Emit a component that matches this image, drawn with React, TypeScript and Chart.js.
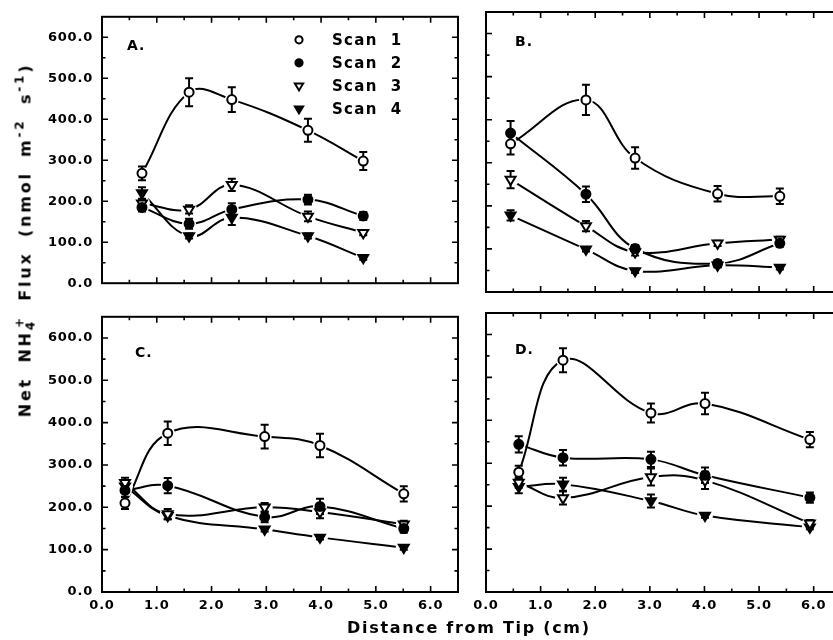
import React, { useEffect, useRef } from "react";
import { Chart, registerables } from "chart.js";

Chart.register(...registerables);

// ---------------- DATA ----------------
const SERIES_NAMES = ["Scan 1", "Scan 2", "Scan 3", "Scan 4"];
const PANEL_LABELS = ["A.", "B.", "C.", "D."];
const X_TITLE = "Distance from Tip (cm)";

// Panel A
const xA = [0.73, 1.59, 2.37, 3.76, 4.77];
const a1 = [268, 466, 448, 373, 298];
const a2 = [185, 145, 180, 204, 164];
const a3 = [195, 180, 240, 163, 123];
const a4 = [220, 115, 160, 115, 62];
const a1e = [17, 34, 30, 28, 22];
const a2e = [10, 12, 15, 12, 10];
const a3e = [10, 10, 15, 12, 6];
const a4e = [14, 6, 18, 6, 5];

// Panel B
const xB = [0.45, 1.83, 2.73, 4.24, 5.38];
const b1 = [344, 446, 311, 228, 222];
const b2 = [369, 227, 101, 66, 113];
const b3 = [261, 153, 93, 113, 122];
const b4 = [178, 99, 49, 62, 57];
const b1e = [25, 35, 25, 18, 18];
const b2e = [28, 18, 8, 8, 8];
const b3e = [20, 12, 8, 6, 6];
const b4e = [12, 5, 5, 5, 5];

// Panel C
const xC = [0.42, 1.2, 2.97, 3.98, 5.51];
const c1 = [210, 375, 367, 346, 232];
const c2 = [240, 251, 177, 202, 150];
const c3 = [258, 184, 200, 189, 160];
const c4 = [250, 180, 148, 129, 105];
const c1e = [14, 28, 28, 28, 18];
const c2e = [15, 18, 12, 18, 10];
const c3e = [12, 12, 10, 15, 8];
const c4e = [12, 8, 5, 5, 5];

// Panel D
const xD = [0.6, 1.41, 3.02, 4.01, 5.93];
const d1 = [279, 540, 417, 439, 355];
const d2 = [344, 313, 309, 272, 220];
const d3 = [255, 219, 268, 260, 160];
const d4 = [245, 251, 212, 178, 151];
const d1e = [15, 28, 22, 25, 18];
const d2e = [19, 18, 18, 18, 12];
const d3e = [12, 15, 20, 20, 8];
const d4e = [15, 15, 15, 5, 5];

const X_MIN = 0;
const X_MAX = 6.5;
const X_STEP = 1;
const Y_MIN = 0;
const Y_MAX = 650;
const Y_STEP = 100;

// ---------------- STYLE ----------------
const FONT = "'DejaVu Sans', sans-serif";

const MARKERS = [
  { style: "circle", r: 4.5, fill: "#fff" },
  { style: "circle", r: 4.5, fill: "#000" },
  { style: "triangle", r: 5.5, fill: "#fff" },
  { style: "triangle", r: 5.5, fill: "#000" },
];

type Panel = {
  label: string;
  x: number[];
  ys: number[][];
  errs: number[][];
  left: number;
  top: number;
  width: number;
  height: number;
  yAxisW: number;
  xAxisH: number;
  padTop: number;
  padRight: number;
  showX: boolean;
  showY: boolean;
  legend: boolean;
  labelDx: number;
  labelDy: number;
};

const PANELS: Panel[] = [
  {
    label: PANEL_LABELS[0], x: xA, ys: [a1, a2, a3, a4], errs: [a1e, a2e, a3e, a4e],
    left: 0, top: 0, width: 460, height: 300, yAxisW: 102, xAxisH: 8, padTop: 12, padRight: 2,
    showX: false, showY: true, legend: true, labelDx: 25, labelDy: 30,
  },
  {
    label: PANEL_LABELS[1], x: xB, ys: [b1, b2, b3, b4], errs: [b1e, b2e, b3e, b4e],
    left: 460, top: 0, width: 400, height: 300, yAxisW: 26, xAxisH: 8, padTop: 12, padRight: 19,
    showX: false, showY: false, legend: false, labelDx: 29, labelDy: 30,
  },
  {
    label: PANEL_LABELS[2], x: xC, ys: [c1, c2, c3, c4], errs: [c1e, c2e, c3e, c4e],
    left: 0, top: 300, width: 460, height: 340, yAxisW: 102, xAxisH: 48, padTop: 13, padRight: 2,
    showX: true, showY: true, legend: false, labelDx: 33, labelDy: 37,
  },
  {
    label: PANEL_LABELS[3], x: xD, ys: [d1, d2, d3, d4], errs: [d1e, d2e, d3e, d4e],
    left: 460, top: 300, width: 400, height: 340, yAxisW: 26, xAxisH: 48, padTop: 13, padRight: 19,
    showX: true, showY: false, legend: false, labelDx: 29, labelDy: 37,
  },
];

function markerPath(ctx: CanvasRenderingContext2D, s: number, x: number, y: number, r: number) {
  const m = MARKERS[s];
  ctx.beginPath();
  if (m.style === "circle") {
    ctx.arc(x, y, r, 0, Math.PI * 2);
  } else {
    ctx.moveTo(x - r * 0.9, y - r * 0.5);
    ctx.lineTo(x + r * 0.9, y - r * 0.5);
    ctx.lineTo(x, y + r);
    ctx.closePath();
  }
}

function drawMarker(ctx: CanvasRenderingContext2D, s: number, x: number, y: number, r: number) {
  ctx.save();
  ctx.lineWidth = 2;
  ctx.strokeStyle = "#000";
  ctx.fillStyle = MARKERS[s].fill;
  markerPath(ctx, s, x, y, r);
  ctx.fill();
  ctx.stroke();
  ctx.restore();
}

const letterSpacingPlugin = {
  id: "letterSpacingPlugin",
  beforeDraw(chart: any) {
    (chart.ctx as any).letterSpacing = "0.8px";
  },
};

// halos (gaps in lines), error bars, and markers at the library-computed point positions
const markerPlugin = {
  id: "markerPlugin",
  afterDatasetsDraw(chart: any) {
    const ctx = chart.ctx as CanvasRenderingContext2D;
    const yScale = chart.scales.y;
    const { left, top, right, bottom } = chart.chartArea;
    ctx.save();
    ctx.beginPath();
    ctx.rect(left, top, right - left, bottom - top);
    ctx.clip();
    const n = chart.data.datasets.length;
    ctx.fillStyle = "#fff";
    for (let i = 0; i < n; i++) {
      const meta = chart.getDatasetMeta(i);
      meta.data.forEach((el: any) => {
        ctx.beginPath();
        ctx.arc(el.x, el.y, MARKERS[i].r + 2.5, 0, Math.PI * 2);
        ctx.fill();
      });
    }
    ctx.strokeStyle = "#000";
    ctx.lineWidth = 2;
    for (let i = 0; i < n; i++) {
      const ds = chart.data.datasets[i];
      const meta = chart.getDatasetMeta(i);
      meta.data.forEach((el: any, k: number) => {
        const v = ds.data[k].y;
        const e = ds.errors[k];
        const yt = yScale.getPixelForValue(v + e);
        const yb = yScale.getPixelForValue(v - e);
        const x = el.x;
        ctx.beginPath();
        ctx.moveTo(x, yt);
        ctx.lineTo(x, yb);
        ctx.moveTo(x - 4, yt);
        ctx.lineTo(x + 4, yt);
        ctx.moveTo(x - 4, yb);
        ctx.lineTo(x + 4, yb);
        ctx.stroke();
      });
    }
    for (let i = n - 1; i >= 0; i--) {
      const meta = chart.getDatasetMeta(i);
      meta.data.forEach((el: any) => drawMarker(ctx, i, el.x, el.y, MARKERS[i].r));
    }
    ctx.restore();
  },
};

const framePlugin = {
  id: "framePlugin",
  afterDraw(chart: any, _args: any, opts: any) {
    const ctx = chart.ctx as CanvasRenderingContext2D;
    const { left, top, right, bottom } = chart.chartArea;
    const xs = chart.scales.x;
    const ys = chart.scales.y;
    ctx.save();
    (ctx as any).letterSpacing = "0px";
    ctx.strokeStyle = "#000";
    ctx.lineWidth = 1.6;
    ctx.beginPath();
    for (let v = X_MIN + 0.5; v < X_MAX; v += 0.5) {
      const px = xs.getPixelForValue(v);
      const len = Math.abs(v - Math.round(v)) < 1e-6 ? 6 : 3.5;
      ctx.moveTo(px, bottom);
      ctx.lineTo(px, bottom - len);
      ctx.moveTo(px, top);
      ctx.lineTo(px, top + len);
    }
    for (let v = Y_MIN + 50; v < Y_MAX; v += 50) {
      const py = ys.getPixelForValue(v);
      const len = v % 100 === 0 ? 6 : 3.5;
      ctx.moveTo(left, py);
      ctx.lineTo(left + len, py);
      ctx.moveTo(right, py);
      ctx.lineTo(right - len, py);
    }
    ctx.stroke();
    ctx.lineWidth = 2;
    ctx.strokeRect(left, top, right - left, bottom - top);

    ctx.fillStyle = "#000";
    ctx.font = `bold 14px ${FONT}`;
    (ctx as any).letterSpacing = "1px";
    ctx.textAlign = "left";
    ctx.textBaseline = "middle";
    ctx.fillText(opts.label, left + opts.dx, top + opts.dy);

    if (opts.legend) {
      ctx.font = `bold 15px ${FONT}`;
      (ctx as any).letterSpacing = "1.3px";
      SERIES_NAMES.forEach((name, s) => {
        const y = top + 23 + s * 23;
        drawMarker(ctx, s, left + 197, y, s >= 2 ? 4.6 : 3.6);
        ctx.fillStyle = "#000";
        ctx.fillText(name.replace(" ", "  "), left + 230, y + 1);
      });
    }
    ctx.restore();
  },
};

function buildConfig(p: Panel): any {
  const tickFont = { family: FONT, size: 13, weight: "bold" as const };
  return {
    type: "line",
    data: {
      datasets: SERIES_NAMES.map((name, s) => ({
        label: name,
        data: p.x.map((x, k) => ({ x, y: p.ys[s][k] })),
        errors: p.errs[s],
        borderColor: "#000",
        borderWidth: 2,
        tension: 0.4,
        fill: false,
        pointRadius: 0,
        pointHoverRadius: 0,
      })),
    },
    options: {
      responsive: false,
      animation: false,
      devicePixelRatio: 1,
      events: [],
      layout: { padding: { top: p.padTop, right: p.padRight, left: 0, bottom: 0 } },
      plugins: {
        legend: { display: false },
        tooltip: { enabled: false },
        framePlugin: { label: p.label, dx: p.labelDx, dy: p.labelDy, legend: p.legend },
      },
      scales: {
        x: {
          type: "linear",
          min: X_MIN,
          max: X_MAX,
          grid: { display: false, drawTicks: false },
          border: { display: false },
          ticks: {
            display: p.showX,
            stepSize: X_STEP,
            includeBounds: false,
            autoSkip: false,
            maxRotation: 0,
            padding: 6,
            color: "#000",
            font: tickFont,
            callback: (v: any) => Number(v).toFixed(1),
          },
          afterFit: (s: any) => {
            s.height = p.xAxisH;
          },
        },
        y: {
          type: "linear",
          min: Y_MIN,
          max: Y_MAX,
          grid: { display: false, drawTicks: false },
          border: { display: false },
          ticks: {
            display: p.showY,
            stepSize: Y_STEP,
            includeBounds: false,
            autoSkip: false,
            padding: 9,
            color: "#000",
            font: tickFont,
            callback: (v: any) => Number(v).toFixed(1),
          },
          afterFit: (s: any) => {
            s.width = p.yAxisW;
          },
        },
      },
    },
    plugins: [letterSpacingPlugin, markerPlugin, framePlugin],
  };
}

export default function App() {
  const r0 = useRef<HTMLCanvasElement>(null);
  const r1 = useRef<HTMLCanvasElement>(null);
  const r2 = useRef<HTMLCanvasElement>(null);
  const r3 = useRef<HTMLCanvasElement>(null);
  const refs = [r0, r1, r2, r3];

  useEffect(() => {
    const charts = PANELS.map((p, i) => new Chart(refs[i].current as HTMLCanvasElement, buildConfig(p)));
    return () => charts.forEach((c) => c.destroy());
  }, []);

  const titleStyle: React.CSSProperties = {
    fontFamily: FONT,
    fontWeight: "bold",
    fontSize: 16,
    color: "#000",
    whiteSpace: "nowrap",
    position: "absolute",
  };
  const supStyle: React.CSSProperties = { fontSize: 12, verticalAlign: "0.6em", lineHeight: 0 };
  const subStyle: React.CSSProperties = { fontSize: 12, verticalAlign: "-0.35em", lineHeight: 0 };

  return (
    <div
      style={{
        position: "absolute",
        left: 0,
        top: 0,
        width: 833,
        height: 640,
        overflow: "hidden",
        background: "#fff",
      }}
    >
      {PANELS.map((p, i) => (
        <canvas
          key={i}
          ref={refs[i]}
          width={p.width}
          height={p.height}
          style={{ position: "absolute", left: p.left, top: p.top, width: p.width, height: p.height }}
        />
      ))}
      <div
        style={{
          ...titleStyle,
          left: 25,
          top: 240,
          letterSpacing: "2.8px",
          wordSpacing: "6px",
          transform: "translate(-50%, -50%) rotate(-90deg)",
        }}
      >
        Net NH<span style={subStyle}>4</span>
        <span style={{ ...supStyle, marginLeft: -9 }}>+</span> Flux (nmol m<span style={supStyle}>-2</span> s
        <span style={supStyle}>-1</span>)
      </div>
      <div style={{ ...titleStyle, left: 347, top: 618, letterSpacing: "1.7px" }}>{X_TITLE}</div>
    </div>
  );
}
